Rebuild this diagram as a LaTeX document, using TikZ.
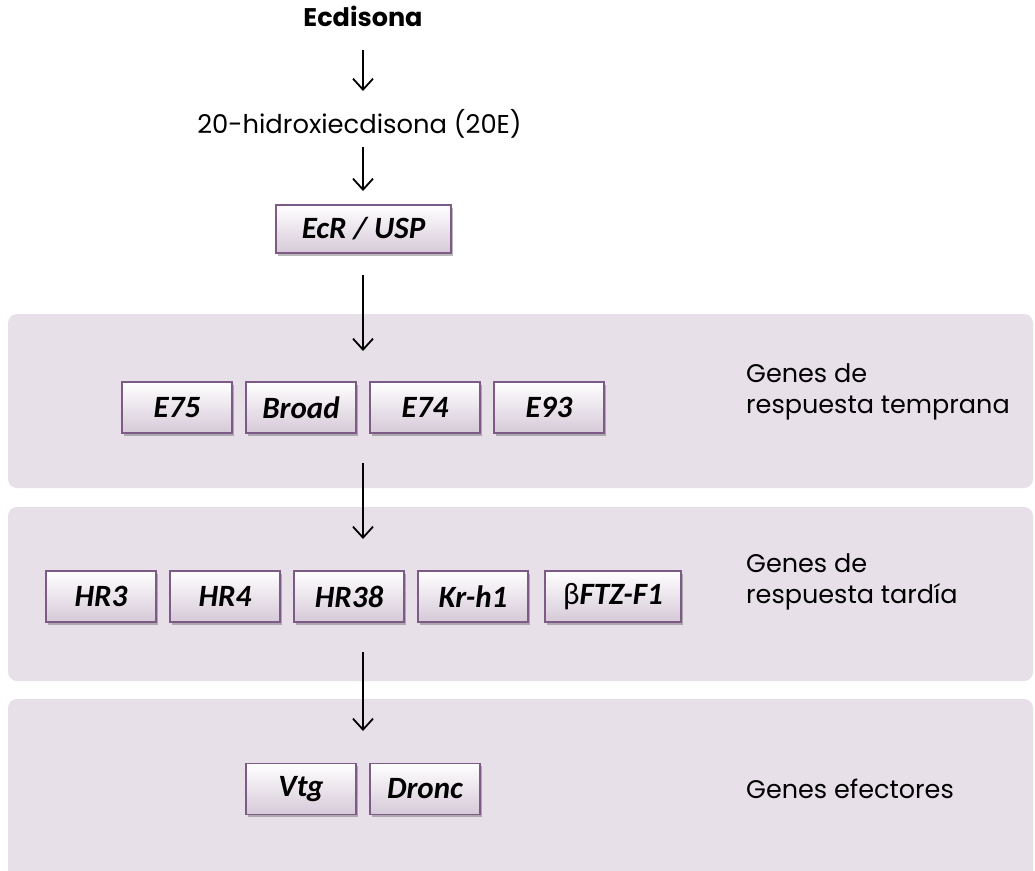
\documentclass[tikz,border=0pt]{standalone}
\usepackage{fontspec}
\setmainfont{Poppins}
\newfontfamily\boxfont{Carlito}
\usetikzlibrary{arrows.meta,shadows}
\definecolor{bandcol}{HTML}{E7E0E8}
\definecolor{boxedge}{HTML}{7E5A87}
\definecolor{boxbot}{HTML}{D6C9D8}
\tikzset{
  band/.style={fill=bandcol, draw=none, rounded corners=9pt},
  gene/.style={draw=boxedge, line width=1.2pt, top color=white, bottom color=boxbot,
    minimum width=110pt, minimum height=51pt, inner sep=0pt,
    font=\boxfont\bfseries\itshape\fontsize{31}{34}\selectfont,
    drop shadow={shadow xshift=1.5pt, shadow yshift=-2.5pt, opacity=0.45, fill=black!60}},
  flow/.style={line width=1.8pt, -{Straight Barb[length=11pt, width=20pt, line width=1.8pt]}},
  grp/.style={anchor=west, align=left, inner sep=0pt, font=\fontsize{25.5}{31}\selectfont},
}
\begin{document}
\begin{tikzpicture}[x=1pt, y=-1pt]
\useasboundingbox (0,0) rectangle (1035,870);
% bands
\path[band] (8,314) rectangle (1033,488);
\path[band] (8,507) rectangle (1033,681);
\path[band] (8,699) rectangle (1033,880);
% top texts
\node[anchor=base, font=\bfseries\fontsize{25.5}{28}\selectfont] (ecd) at (363,27) {Ecdisona};
\node[anchor=base, font=\fontsize{25.8}{30}\selectfont] (hid) at (359.5,133) {20-hidroxiecdisona (20E)};
\node[gene, minimum width=175pt, minimum height=48pt] (ecr) at (363.5,229) {EcR / USP};
% row 1
\node[gene] (e75) at (177,407.5) {E75};
\node[gene] (broad) at (301,407.5) {Broad};
\node[gene] (e74) at (425,407.5) {E74};
\node[gene] (e93) at (549,407.5) {E93};
\node[grp] (t1) at (746,392) {Genes de\\respuesta temprana};
% row 2
\node[gene] (hr3) at (101,596.5) {HR3};
\node[gene] (hr4) at (225,596.5) {HR4};
\node[gene] (hr38) at (349,596.5) {HR38};
\node[gene] (krh1) at (473,596.5) {Kr-h1};
\node[gene, minimum width=136pt] (ftz) at (613,596.5) {{\normalfont\boxfont β}FTZ-F1};
\node[grp] (t2) at (746,582) {Genes de\\respuesta tardía};
% row 3
\node[gene] (vtg) at (301,789) {Vtg};
\node[gene] (dronc) at (425,789) {Dronc};
\node[grp, anchor=base west] (t3) at (746,798) {Genes efectores};
% arrow ends
\coordinate (a1s) at (363,50);
\coordinate (a1e) at (363,91);
\coordinate (a2s) at (363,147);
\coordinate (a2e) at (363,191);
\coordinate (a3s) at (363,275);
\coordinate (a3e) at (363,351);
\coordinate (a4s) at (363,463);
\coordinate (a4e) at (363,539);
\coordinate (a5s) at (363,652);
\coordinate (a5e) at (363,731);
\draw[flow] (a1s) -- (a1e);
\draw[flow] (a2s) -- (a2e);
\draw[flow] (a3s) -- (a3e);
\draw[flow] (a4s) -- (a4e);
\draw[flow] (a5s) -- (a5e);
\end{tikzpicture}
\end{document}
